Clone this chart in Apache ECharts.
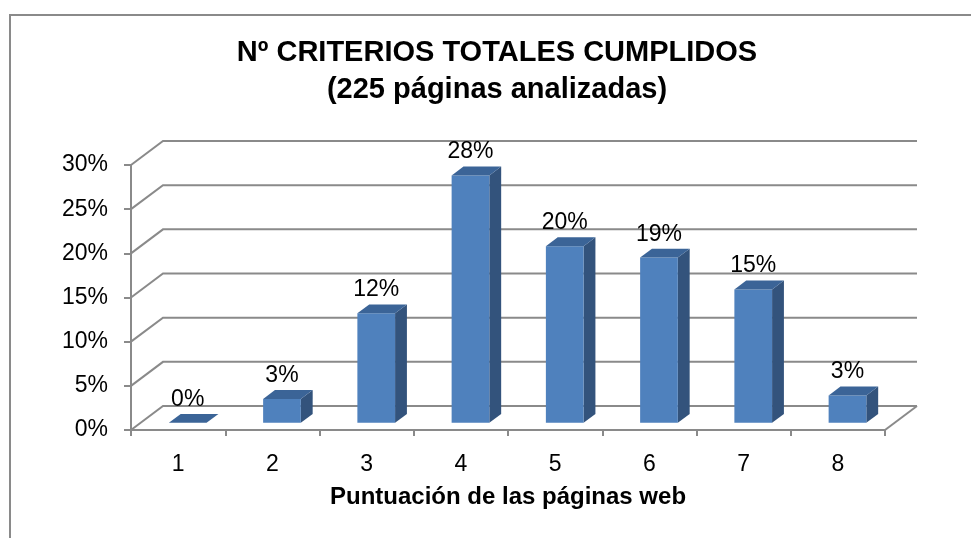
<!DOCTYPE html>
<html>
<head>
<meta charset="utf-8">
<script src="https://cdn.jsdelivr.net/npm/echarts@6/dist/echarts.min.js"></script>
<style>
  html, body { margin: 0; padding: 0; background: #fff; }
  #chart { width: 971px; height: 538px; }
</style>
</head>
<body>
<div id="chart"></div>
<script>
// puntuación (criterios cumplidos) y % de páginas
const categories = ['1', '2', '3', '4', '5', '6', '7', '8'];
const percentages = [0, 2.7, 12.4, 28.0, 20.0, 18.7, 15.1, 3.1];
const yTicks = [0, 5, 10, 15, 20, 25, 30];

const gray = '#8a8a8a';
const font = 'Liberation Sans, Arial, sans-serif';
// profundidad del "3D": desplazamiento de la pared del fondo
const depthX = 32;
const depthY = 24;

let myChart = echarts.init(document.getElementById('chart'));

// paredes: lineas de fondo + diagonales
function renderWall(params, api) {
  let y = api.coord([0, api.value(1)])[1];
  let cs = params.coordSys;
  let x0 = cs.x;
  let x1 = cs.x + cs.width;
  let children = [{
    type: 'polyline',
    shape: { points: [[x0, y], [x0 + depthX, y - depthY], [x1 + depthX, y - depthY]] },
    style: { stroke: gray, lineWidth: 2, fill: null }
  }];
  if (api.value(1) === 0) {
    children.push({
      type: 'line',
      shape: { x1: x1, y1: y, x2: x1 + depthX, y2: y - depthY },
      style: { stroke: gray, lineWidth: 2 }
    });
  }
  return { type: 'group', children: children };
}

// barras con cara frontal, lateral y superior
function renderBar(params, api) {
  let idx = api.value(0);
  let val = api.value(1);
  let top = api.coord([idx, val]);
  let base = api.coord([idx, 0]);
  let band = api.size([1, 0])[0];
  let w = band * 0.4;
  let fx = top[0] - w / 2 + depthX * 0.3;
  let fy0 = base[1] - depthY * 0.3;
  let fy1 = top[1] - depthY * 0.3;
  let ddx = depthX * 0.37;
  let ddy = depthY * 0.37;
  return {
    type: 'group',
    children: [
      {
        type: 'polygon',
        shape: { points: [[fx + w, fy1], [fx + w + ddx, fy1 - ddy], [fx + w + ddx, fy0 - ddy], [fx + w, fy0]] },
        style: { fill: '#33537c' }
      },
      {
        type: 'rect',
        shape: { x: fx, y: fy1, width: w, height: fy0 - fy1 },
        style: { fill: '#4f81bd' }
      },
      {
        type: 'polygon',
        shape: { points: [[fx, fy1], [fx + ddx, fy1 - ddy], [fx + w + ddx, fy1 - ddy], [fx + w, fy1]] },
        style: { fill: '#3b6497' }
      },
      {
        type: 'text',
        x: fx + w / 2,
        y: fy1 - ddy - 3,
        style: {
          text: Math.round(val) + '%',
          fill: '#000',
          font: '23px ' + font,
          align: 'center',
          verticalAlign: 'bottom'
        }
      }
    ]
  };
}

myChart.setOption({
  animation: false,
  backgroundColor: '#fff',
  graphic: [
    {
      type: 'rect',
      silent: true,
      shape: { x: 10, y: 15, width: 1000, height: 600 },
      style: { fill: null, stroke: gray, lineWidth: 2 }
    },
    {
      type: 'text',
      x: 497,
      y: 71.5,
      style: {
        text: 'Nº CRITERIOS TOTALES CUMPLIDOS\n(225 páginas analizadas)',
        font: 'bold 29px ' + font,
        fill: '#000',
        align: 'center',
        verticalAlign: 'middle',
        lineHeight: 37
      }
    }
  ],
  grid: {
    left: 131,
    right: 86,
    top: 165,
    bottom: 108
  },
  xAxis: {
    type: 'category',
    data: categories,
    axisLine: { lineStyle: { color: gray, width: 2 } },
    axisTick: { show: true, length: 6, lineStyle: { color: gray, width: 2 } },
    axisLabel: { fontSize: 23, color: '#000', fontFamily: font, margin: 23 },
    name: 'Puntuación de las páginas web',
    nameLocation: 'middle',
    nameGap: 55,
    nameTextStyle: { fontSize: 24, fontWeight: 'bold', color: '#000', fontFamily: font }
  },
  yAxis: {
    type: 'value',
    min: 0,
    max: 30,
    interval: 5,
    axisLine: { show: true, lineStyle: { color: gray, width: 2 } },
    axisTick: { show: true, length: 7, lineStyle: { color: gray, width: 2 } },
    axisLabel: { formatter: '{value}%', fontSize: 23, color: '#000', fontFamily: font, margin: 23 },
    splitLine: { show: false }
  },
  series: [
    {
      name: 'pared',
      type: 'custom',
      silent: true,
      z: 1,
      renderItem: renderWall,
      encode: { x: 0, y: 1 },
      data: yTicks.map(v => [0, v])
    },
    {
      name: 'páginas',
      type: 'custom',
      z: 3,
      renderItem: renderBar,
      encode: { x: 0, y: 1 },
      data: percentages.map((v, i) => [i, v])
    }
  ]
});
</script>
</body>
</html>
